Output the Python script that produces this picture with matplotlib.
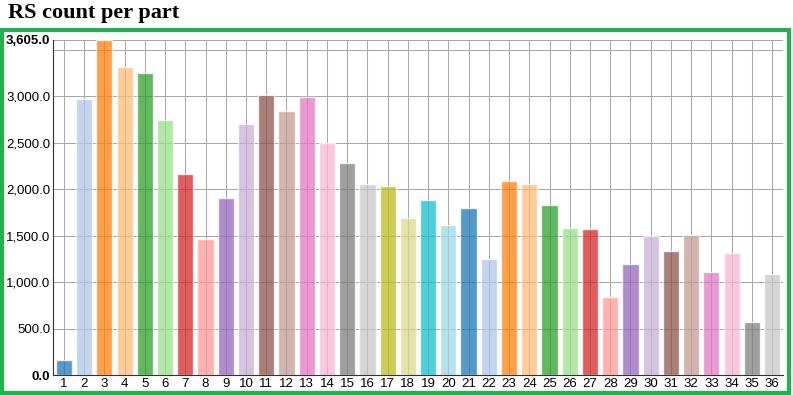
import matplotlib.pyplot as plt
from matplotlib.patches import Rectangle
from matplotlib.ticker import FixedLocator

parts = list(range(1, 37))
counts = [161, 2967, 3605, 3311, 3251, 2739, 2166, 1461, 1901, 2696,
          3015, 2843, 2990, 2495, 2284, 2059, 2030, 1690, 1887, 1618,
          1797, 1249, 2091, 2059, 1833, 1579, 1568, 838, 1199, 1497,
          1332, 1504, 1113, 1318, 569, 1085]
ytick_vals = [0, 500, 1000, 1500, 2000, 2500, 3000, 3605]
ytick_labels = ["0.0", "500.0", "1,000.0", "1,500.0", "2,000.0", "2,500.0", "3,000.0", "3,605.0"]

colors = [plt.cm.tab20(i % 20) for i in range(len(parts))]

fig = plt.figure(figsize=(7.93, 3.95), dpi=100)
ax = fig.add_axes([53 / 793, 1 - 375 / 395, 730 / 793, 335 / 395])

ax.bar(parts, counts, width=0.8, color=colors, alpha=0.75,
       edgecolor=(1, 1, 1, 0.5), linewidth=1, zorder=2)

ax.set_xlim(0.46, 36.54)
ax.set_ylim(0, 3605)
ax.set_xticks(parts)
ax.set_xticklabels([str(p) for p in parts], fontsize=9.5, family="Liberation Sans")
ax.set_yticks(ytick_vals)
ax.set_yticklabels(ytick_labels, fontsize=9.5, family="Liberation Sans")
for lbl in ax.get_yticklabels():
    if lbl.get_text() in ("0.0", "3,605.0"):
        lbl.set_fontweight("bold")
ax.tick_params(length=0, pad=2)

# horizontal grid every 500 (3500 has no label)
ax.yaxis.set_minor_locator(FixedLocator([3500]))
ax.tick_params(which="minor", length=0)
ax.grid(True, which="both", color="#a8a8a8", linewidth=0.75)
ax.set_axisbelow(True)

for s in ["top", "right"]:
    ax.spines[s].set_visible(False)
ax.spines["left"].set_color("#333333")
ax.spines["bottom"].set_color("#333333")

fig.text(8 / 793, 1 - 13 / 395, "RS count per part", fontsize=16, fontweight="bold",
         family="Liberation Serif", va="center", ha="left")

fig.patches.append(Rectangle((2 / 793, 2 / 395), 787 / 793, 363 / 395,
                             transform=fig.transFigure, fill=False,
                             edgecolor="#22b14c", linewidth=3))

fig.savefig("out.png", dpi=100)
